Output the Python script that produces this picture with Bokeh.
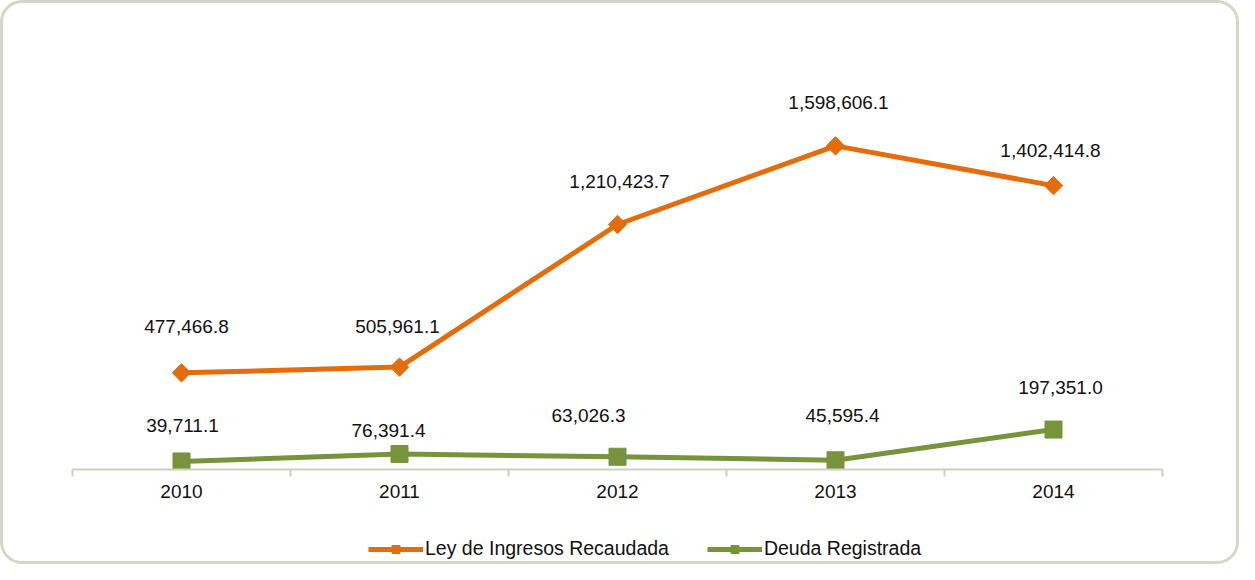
import math
from bokeh.plotting import figure
from bokeh.layouts import column
from bokeh.models import FixedTicker, Legend, LegendItem, ColumnDataSource, Range1d
from bokeh.core.properties import value
from bokeh.embed import file_html
from bokeh.resources import INLINE

# ---- data ----
years = [2010, 2011, 2012, 2013, 2014]
ley_ingresos = [477466.8, 505961.1, 1210423.7, 1598606.1, 1402414.8]
deuda = [39711.1, 76391.4, 63026.3, 45595.4, 197351.0]
ley_labels = ["477,466.8", "505,961.1", "1,210,423.7", "1,598,606.1", "1,402,414.8"]
deuda_labels = ["39,711.1", "76,391.4", "63,026.3", "45,595.4", "197,351.0"]
series_names = ["Ley de Ingresos Recaudada", "Deuda Registrada"]

# label placement (pixels, styling only)
ley_dx = [5, -2, 2, 3, -3]
ley_dy = [46, 41, 43, 43, 35]
deuda_dx = [1, -11, -29, 7, 7]
deuda_dy = [36, 24, 41, 45, 42]

ORANGE = "#E46C0A"
GREEN = "#77933C"
AXIS = "#CDD0BE"
FONT = "Liberation Sans"
FS = "19px"
TXT = "#111111"

p = figure(width=1233, height=520, output_backend="svg", toolbar_location=None,
           x_range=Range1d(2009.5, 2014.5), y_range=Range1d(0, 2060000),
           min_border_left=69, min_border_right=74, min_border_top=49, min_border_bottom=54)
p.border_fill_color = None
p.background_fill_color = None
p.outline_line_color = None
p.xgrid.visible = False
p.ygrid.visible = False
p.yaxis.visible = False

xa = p.xaxis[0]
xa.ticker = FixedTicker(ticks=years, minor_ticks=[y - 0.5 for y in years] + [years[-1] + 0.5])
xa.axis_line_color = AXIS
xa.axis_line_width = 2
xa.major_tick_line_color = None
xa.minor_tick_line_color = AXIS
xa.minor_tick_line_width = 2
xa.minor_tick_in = 0
xa.minor_tick_out = 7
xa.major_label_text_font = FONT
xa.major_label_text_font_size = FS
xa.major_label_text_color = TXT
xa.major_label_standoff = 8

src1 = ColumnDataSource(dict(x=years, y=ley_ingresos, t=ley_labels, dx=ley_dx, dy=[-d for d in ley_dy]))
src2 = ColumnDataSource(dict(x=years, y=deuda, t=deuda_labels, dx=deuda_dx, dy=[-d for d in deuda_dy]))

p.line("x", "y", source=src1, line_color=ORANGE, line_width=5)
p.scatter("x", "y", source=src1, marker="square", angle=math.pi / 4, size=13,
          fill_color=ORANGE, line_color=ORANGE)
p.line("x", "y", source=src2, line_color=GREEN, line_width=5)
p.scatter("x", "y", source=src2, marker="square", size=17,
          fill_color=GREEN, line_color=GREEN)

for src in (src1, src2):
    p.text("x", "y", text="t", source=src, x_offset="dx", y_offset="dy",
           text_align="center", text_baseline="middle",
           text_font=value(FONT), text_font_size=FS, text_color=TXT)

# ---- legend strip (same series, drawn outside its visible range; only the legend shows) ----
q = figure(width=1233, height=38, output_backend="svg", toolbar_location=None,
           min_border=0, x_range=Range1d(0, 1), y_range=Range1d(0, 1))
q.border_fill_color = None
q.background_fill_color = None
q.outline_line_color = None
q.axis.visible = False
q.grid.visible = False
ql1 = q.line("x", "y", source=src1, line_color=ORANGE, line_width=5)
qm1 = q.scatter("x", "y", source=src1, marker="square", size=11,
                fill_color=ORANGE, line_color=ORANGE)
ql2 = q.line("x", "y", source=src2, line_color=GREEN, line_width=5)
qm2 = q.scatter("x", "y", source=src2, marker="square", size=13,
                fill_color=GREEN, line_color=GREEN)

legend = Legend(items=[LegendItem(label=series_names[0], renderers=[ql1, qm1]),
                       LegendItem(label=series_names[1], renderers=[ql2, qm2])],
                orientation="horizontal", location=(296, 1),
                label_text_font=FONT, label_text_font_size="19.5px", label_text_color=TXT,
                glyph_width=55, glyph_height=20, label_height=20, label_standoff=2, spacing=38,
                border_line_color=None, background_fill_color=None,
                padding=0, margin=0)
q.add_layout(legend, "center")

layout = column(p, q, spacing=0,
                styles={"border": "3px solid #D4D7C5", "border-radius": "22px"})

open("out.html", "w").write(file_html(layout, INLINE))
